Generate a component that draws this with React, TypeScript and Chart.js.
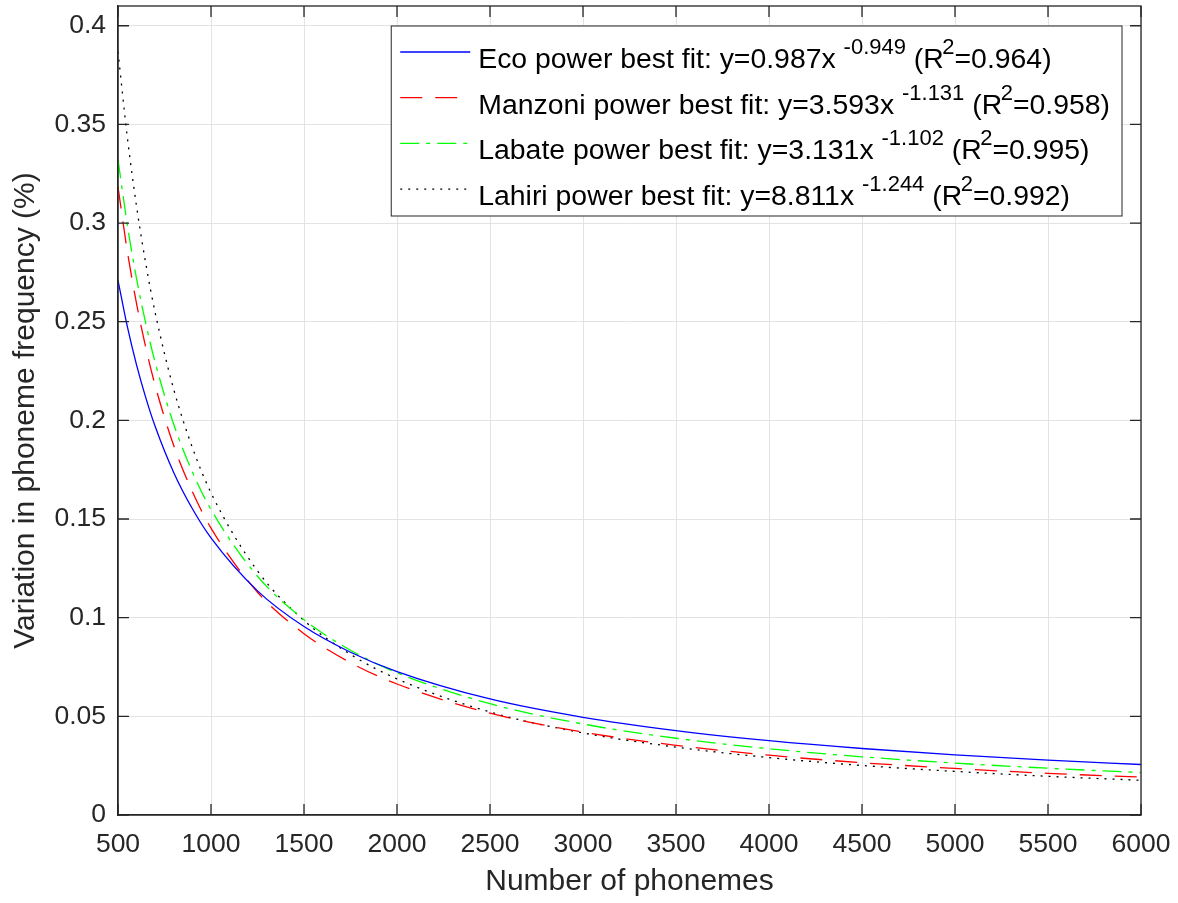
import React, { useEffect, useRef } from 'react';
import { Chart, registerables } from 'chart.js';

Chart.register(...registerables);

// ---- data ----
const xValues = [500, 550, 600, 650, 700, 800, 900, 1000, 1250, 1500, 1750, 2000, 2500, 3000, 3500, 4000, 4500, 5000, 5500, 6000];
const ecoValues = [0.2710, 0.2476, 0.2280, 0.2113, 0.1969, 0.1735, 0.1552, 0.1404, 0.1136, 0.0955, 0.0825, 0.0727, 0.0588, 0.0495, 0.0428, 0.0377, 0.0337, 0.0305, 0.0278, 0.0256];
const manzoniValues = [0.3184, 0.2858, 0.2590, 0.2366, 0.2176, 0.1871, 0.1638, 0.1454, 0.1129, 0.0919, 0.0772, 0.0664, 0.0516, 0.0420, 0.0353, 0.0303, 0.0265, 0.0236, 0.0211, 0.0192];
const labateValues = [0.3322, 0.2991, 0.2717, 0.2488, 0.2293, 0.1979, 0.1738, 0.1548, 0.1210, 0.0990, 0.0835, 0.0721, 0.0564, 0.0461, 0.0389, 0.0336, 0.0295, 0.0263, 0.0237, 0.0215];
const lahiriValues = [0.3868, 0.3436, 0.3083, 0.2791, 0.2545, 0.2156, 0.1862, 0.1633, 0.1237, 0.0986, 0.0814, 0.0690, 0.0522, 0.0416, 0.0344, 0.0291, 0.0251, 0.0221, 0.0196, 0.0176];

const seriesNames = ['Eco', 'Manzoni', 'Labate', 'Lahiri'];
const fitCoefficients = ['0.987', '3.593', '3.131', '8.811'];
const fitExponents = ['-0.949', '-1.131', '-1.102', '-1.244'];
const fitR2 = ['0.964', '0.958', '0.995', '0.992'];

const xTickValues = [500, 1000, 1500, 2000, 2500, 3000, 3500, 4000, 4500, 5000, 5500, 6000];
const yTickValues = [0, 0.05, 0.1, 0.15, 0.2, 0.25, 0.3, 0.35, 0.4];

const xTitle = 'Number of phonemes';
const yTitle = 'Variation in phoneme frequency (%)';

// ---- styles ----
const FONT = "'Liberation Sans', Arial, Helvetica, sans-serif";
const AXIS = '#262626';
const GRID = '#e3e3e3';
const colors = ['#0000ff', '#ff0000', '#00ff00', '#000000'];
const dashes: number[][] = [[], [22, 13], [19, 7, 4, 7], [2, 6]];
const seriesValues = [ecoValues, manzoniValues, labateValues, lahiriValues];
const TICK_LEN = 11;

const framePlugin = {
  id: 'matlabFrame',
  afterDatasetsDraw(chart: any) {
    const { ctx, chartArea: a, scales } = chart;
    const xs = scales.x;
    const ys = scales.y;
    ctx.save();
    ctx.strokeStyle = AXIS;
    ctx.lineWidth = 1.3;
    ctx.setLineDash([]);
    ctx.strokeRect(a.left, a.top, a.right - a.left, a.bottom - a.top);
    ctx.beginPath();
    xs.ticks.forEach((t: any) => {
      const px = xs.getPixelForValue(t.value);
      ctx.moveTo(px, a.bottom);
      ctx.lineTo(px, a.bottom - TICK_LEN);
      ctx.moveTo(px, a.top);
      ctx.lineTo(px, a.top + TICK_LEN);
    });
    ys.ticks.forEach((t: any) => {
      const py = ys.getPixelForValue(t.value);
      ctx.moveTo(a.left, py);
      ctx.lineTo(a.left + TICK_LEN, py);
      ctx.moveTo(a.right, py);
      ctx.lineTo(a.right - TICK_LEN, py);
    });
    ctx.stroke();
    ctx.restore();
  },
};

const legendPlugin = {
  id: 'supLegend',
  afterDraw(chart: any) {
    const { ctx, chartArea: a } = chart;
    const mainFont = `28.4px ${FONT}`;
    const supFont = `22px ${FONT}`;
    const rows = seriesNames.map((n, i) => [
      { t: `${n} power best fit: y=${fitCoefficients[i]}x `, sup: false, dx: 0 },
      { t: fitExponents[i], sup: true, dx: 0 },
      { t: ' (R', sup: false, dx: 0 },
      { t: '2', sup: true, dx: -1.5 },
      { t: `=${fitR2[i]})`, sup: false, dx: 0 },
    ]);
    ctx.save();
    const widths = rows.map((segs) =>
      segs.reduce((w, s) => {
        ctx.font = s.sup ? supFont : mainFont;
        return w + ctx.measureText(s.t).width + s.dx;
      }, 0)
    );
    const maxW = Math.max(...widths);
    const right = a.right - 19;
    const boxW = 87 + maxW + 12;
    const left = right - boxW;
    const top = a.top + 20;
    const boxH = 190;
    ctx.fillStyle = '#ffffff';
    ctx.fillRect(left, top, boxW, boxH);
    ctx.strokeStyle = AXIS;
    ctx.lineWidth = 1;
    ctx.setLineDash([]);
    ctx.strokeRect(left, top, boxW, boxH);
    rows.forEach((segs, i) => {
      const lineY = top + 26 + i * 45.7;
      ctx.save();
      ctx.strokeStyle = colors[i];
      ctx.lineWidth = 1.3;
      ctx.setLineDash(dashes[i]);
      ctx.beginPath();
      ctx.moveTo(left + 9, lineY);
      ctx.lineTo(left + 79, lineY);
      ctx.stroke();
      ctx.restore();
      let x = left + 87;
      const base = lineY + 16;
      ctx.fillStyle = '#000000';
      ctx.textBaseline = 'alphabetic';
      ctx.textAlign = 'left';
      segs.forEach((s) => {
        x += s.dx;
        ctx.font = s.sup ? supFont : mainFont;
        ctx.fillText(s.t, x, s.sup ? base - 14 : base);
        x += ctx.measureText(s.t).width;
      });
    });
    ctx.restore();
  },
};

export default function App() {
  const canvasRef = useRef<HTMLCanvasElement | null>(null);

  useEffect(() => {
    const canvas = canvasRef.current;
    if (!canvas) return;
    const datasets = seriesNames.map((name, i) => ({
      label: name,
      data: xValues.map((x, j) => ({ x, y: seriesValues[i][j] })),
      borderColor: colors[i],
      backgroundColor: colors[i],
      borderWidth: 1.3,
      borderDash: dashes[i],
      pointRadius: 0,
      pointHoverRadius: 0,
      fill: false,
      cubicInterpolationMode: 'monotone' as const,
    }));

    const chart = new Chart(canvas, {
      type: 'line',
      data: { datasets },
      plugins: [framePlugin, legendPlugin],
      options: {
        responsive: false,
        animation: false,
        events: [],
        layout: { padding: { left: 0, top: 6, right: 37, bottom: 0 } },
        plugins: {
          legend: { display: false },
          tooltip: { enabled: false },
          title: { display: false },
        },
        scales: {
          x: {
            type: 'linear',
            min: 500,
            max: 6000,
            afterBuildTicks: (scale: any) => {
              scale.ticks = xTickValues.map((v) => ({ value: v }));
            },
            afterFit: (scale: any) => {
              scale.height = 88;
              scale.paddingLeft = 0;
              scale.paddingRight = 0;
            },
            ticks: {
              autoSkip: false,
              maxRotation: 0,
              minRotation: 0,
              padding: 14,
              color: AXIS,
              font: { family: FONT, size: 26.5 },
              callback: (v: any) => String(v),
            },
            grid: { color: GRID, lineWidth: 1, drawTicks: false },
            border: { display: true, color: AXIS, width: 1.3 },
            title: {
              display: true,
              text: xTitle,
              color: AXIS,
              font: { family: FONT, size: 30 },
              padding: { top: 0, bottom: 3 },
            },
          },
          y: {
            type: 'linear',
            min: 0,
            max: 0.41,
            afterBuildTicks: (scale: any) => {
              scale.ticks = yTickValues.map((v) => ({ value: v }));
            },
            afterFit: (scale: any) => {
              scale.width = 118;
              scale.paddingTop = 0;
              scale.paddingBottom = 0;
            },
            ticks: {
              padding: 12,
              color: AXIS,
              font: { family: FONT, size: 26.5 },
              callback: (v: any) => String(Number(Number(v).toFixed(2))),
            },
            grid: { color: GRID, lineWidth: 1, drawTicks: false },
            border: { display: true, color: AXIS, width: 1.3 },
            title: {
              display: true,
              text: yTitle,
              color: AXIS,
              font: { family: FONT, size: 30 },
              padding: { top: 8, bottom: 0 },
            },
          },
        },
      } as any,
    });

    return () => {
      chart.destroy();
    };
  }, []);

  return (
    <div style={{ position: 'absolute', left: 0, top: 0, width: 1178, height: 903, background: '#ffffff' }}>
      <canvas ref={canvasRef} width={1178} height={903} style={{ display: 'block', width: 1178, height: 903 }} />
    </div>
  );
}
